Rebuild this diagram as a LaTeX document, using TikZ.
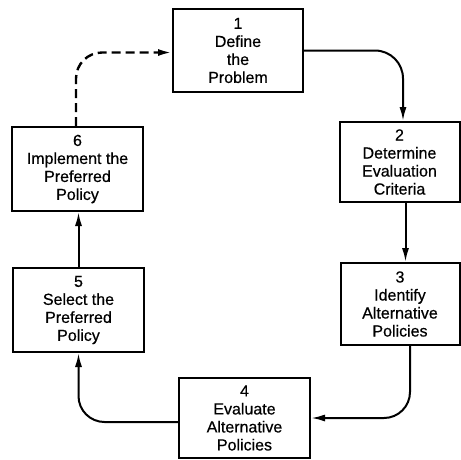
\documentclass[tikz,border=0pt]{standalone}
\usepackage{fontspec}
\setmainfont{Liberation Sans}
\newfontfamily\boxfont{Liberation Sans}[FakeBold=0.5]
\usetikzlibrary{arrows.meta}
\begin{document}
\begin{tikzpicture}[x=1pt,y=1pt,
  stagebox/.style={draw,line width=2pt,align=center,inner sep=0pt,
    font=\boxfont\fontsize{16}{18}\selectfont},
  arr/.style={line width=2pt,-{Latex[length=14pt,width=7pt]}},
  dasharr/.style={line width=2.4pt,dash pattern=on 9pt off 5pt,-{Latex[length=14pt,width=7pt]}}]
\useasboundingbox (0,0) rectangle (461,-459);
\node[stagebox,minimum width=130pt,minimum height=83pt] (b1) at (238,-50.5) {1\\Define\\the\\Problem};
\node[stagebox,minimum width=120pt,minimum height=80pt] (b2) at (399.5,-162) {2\\Determine\\Evaluation\\Criteria};
\node[stagebox,minimum width=119pt,minimum height=82pt] (b3) at (400,-304) {3\\Identify\\Alternative\\Policies};
\node[stagebox,minimum width=131pt,minimum height=80pt] (b4) at (244.5,-418) {4\\Evaluate\\Alternative\\Policies};
\node[stagebox,minimum width=131pt,minimum height=84pt] (b5) at (78.5,-310) {5\\Select the\\Preferred\\Policy};
\node[stagebox,minimum width=131pt,minimum height=84pt] (b6) at (77.5,-169) {6\\Implement the\\Preferred\\Policy};
\draw[arr,rounded corners=28pt] (b1.east) -| ([xshift=3.5pt]b2.north);
\draw[arr] ([xshift=6pt]b2.south) -- ([xshift=6pt]b2.south |- b3.north);
\draw[arr,rounded corners=26pt] ([xshift=10pt]b3.south) |- (b4.east);
\draw[arr,rounded corners=26pt] ([yshift=-4pt]b4.west) -| (b5.south);
\draw[arr] (b5.north) -- (b5.north |- b6.south);
\draw[dasharr,rounded corners=26pt] ([xshift=-1.5pt]b6.north) |- ([yshift=-2pt]b1.west);
\end{tikzpicture}
\end{document}
